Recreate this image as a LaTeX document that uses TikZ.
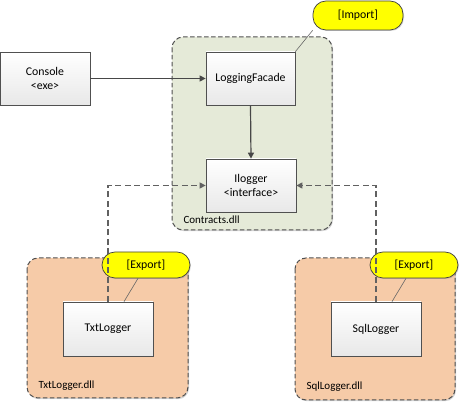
\documentclass[tikz,border=0pt]{standalone}
\usepackage{fontspec}
\setmainfont{Carlito}
\usetikzlibrary{arrows.meta,shadows}
\definecolor{greenbg}{HTML}{E5EAD8}
\definecolor{orangebg}{HTML}{F6CBA8}
\definecolor{calloutfill}{HTML}{FFFF00}
\definecolor{linegray}{HTML}{505050}
\tikzset{
  container/.style={draw=linegray, dash pattern=on 4.5pt off 2.5pt, line width=1pt, rounded corners=11pt, drop shadow={shadow xshift=1pt,shadow yshift=-1.2pt,opacity=0.35}},
  compbox/.style={draw=linegray, line width=0.7pt, top color=white, bottom color=black!9, align=center, font=\fontsize{11.8}{14}\selectfont, inner sep=0pt, drop shadow={shadow xshift=1pt,shadow yshift=-1.2pt,opacity=0.35}},
  callout/.style={draw=black!75, line width=0.7pt, fill=calloutfill, rounded corners=13pt, font=\fontsize{11.8}{14}\selectfont, inner sep=0pt, drop shadow={shadow xshift=1pt,shadow yshift=-1pt,opacity=0.3}},
  dllabel/.style={font=\fontsize{11}{13}\selectfont, anchor=west},
  solidarrow/.style={draw=black!72, line width=1.2pt, -{Triangle[length=6pt,width=6pt]}},
  dasharrow/.style={draw=black!62, line width=1.2pt, dash pattern=on 6pt off 3.5pt, -{Triangle[length=6pt,width=6pt]}},
  leader/.style={draw=black!60, line width=0.6pt}
}
\begin{document}
\begin{tikzpicture}[x=1pt,y=-1pt]
\useasboundingbox (0,0) rectangle (461,403);
% containers
\path[container, fill=greenbg] (172,37) rectangle (332,230);
\path[container, fill=orangebg] (27,258) rectangle (188,398);
\path[container, fill=orangebg] (295,258) rectangle (455,400);
\node[dllabel] (contractslbl) at (180,220) {Contracts.dll};
\node[dllabel] (txtlbl) at (35,386) {TxtLogger.dll};
\node[dllabel] (sqllbl) at (303,387) {SqlLogger.dll};
% boxes
\node[compbox, minimum width=90pt, minimum height=53pt] (console) at (45,78.5) {Console\\[0pt]<exe>};
\node[compbox, minimum width=89pt, minimum height=53pt] (facade) at (250.5,78.5) {LoggingFacade};
\node[compbox, minimum width=90pt, minimum height=53pt] (ilogger) at (251,185.5) {Ilogger\\[0pt]<interface>};
\node[compbox, minimum width=90pt, minimum height=54pt] (txt) at (108,329) {TxtLogger};
\node[compbox, minimum width=90pt, minimum height=54pt] (sql) at (376,329) {SqlLogger};
% callouts
\node[callout, minimum width=90pt, minimum height=29pt] (import) at (358,15.5) {[Import]};
\node[callout, minimum width=88pt, minimum height=26pt] (exp1) at (146,265) {[Export]};
\node[callout, minimum width=88pt, minimum height=26pt] (exp2) at (414,265) {[Export]};
% connectors
\draw[solidarrow] (console.east) -- (facade.west);
\draw[solidarrow] (facade.south) -- (ilogger.north);
\coordinate (tcorner) at (txt.north |- ilogger.west);
\coordinate (scorner) at (sql.north |- ilogger.east);
\draw[dasharrow] (txt.north) -- (tcorner) -- (ilogger.west);
\draw[dasharrow] (sql.north) -- (scorner) -- (ilogger.east);
% leaders
\draw[leader] (facade.north east) -- (import.south west);
\draw[leader] ([xshift=16pt]txt.north) -- ([xshift=-8pt]exp1.south);
\draw[leader] ([xshift=16pt]sql.north) -- ([xshift=-8pt]exp2.south);
\end{tikzpicture}
\end{document}
